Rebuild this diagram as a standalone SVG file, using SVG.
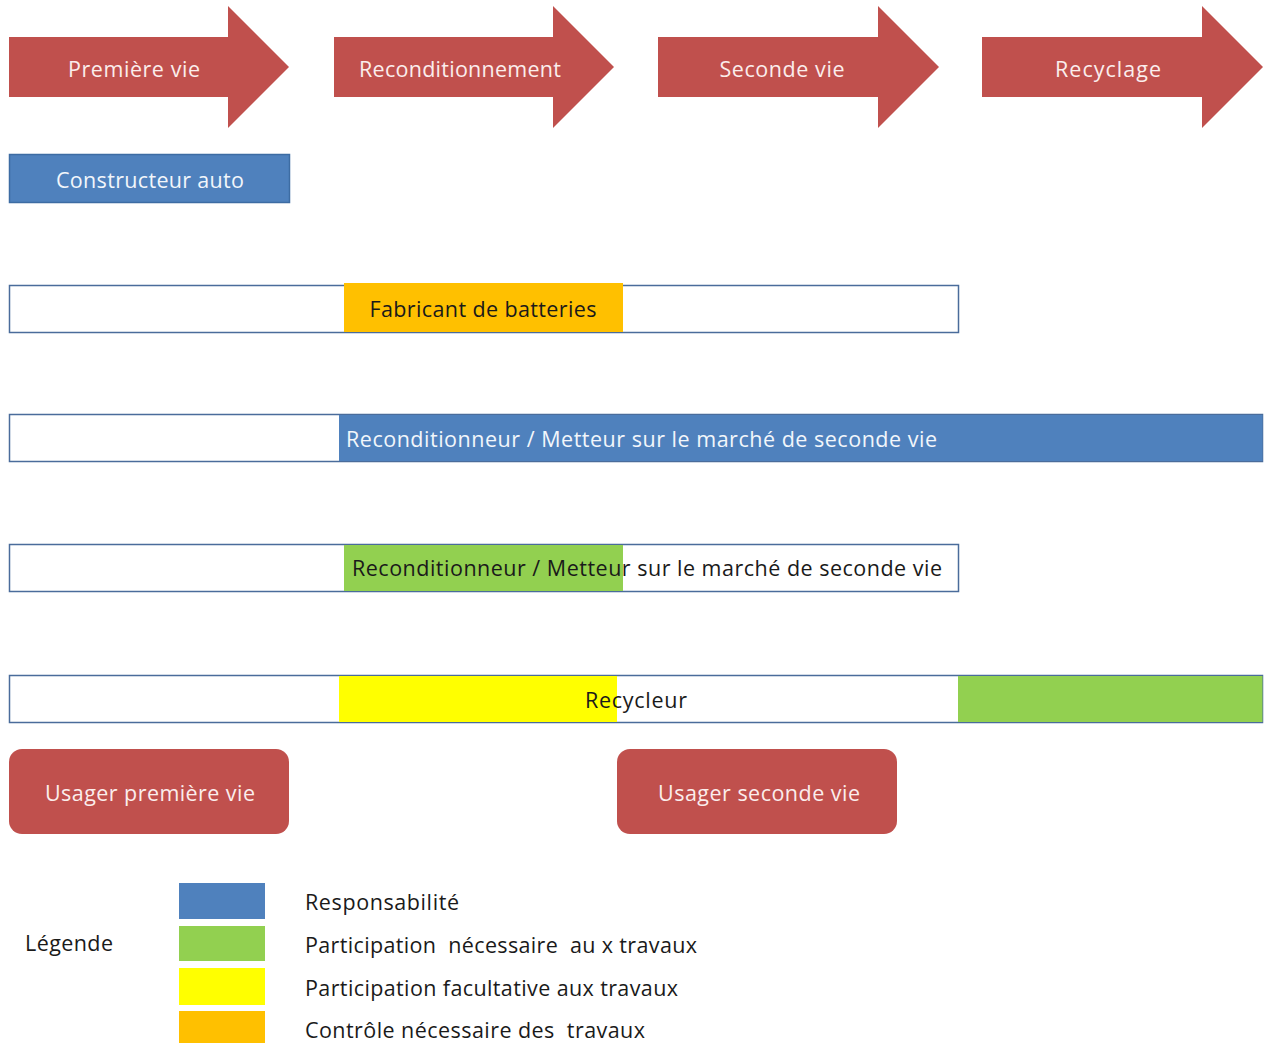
<svg xmlns="http://www.w3.org/2000/svg" width="1266" height="1043" viewBox="0 0 1266 1043">
<style>
text{font-family:"Open Sans","Liberation Sans",sans-serif;font-size:21.5px;dominant-baseline:central}
.arrow{fill:#C0504D}
.lt{fill:#FBEDEC}
.wt{fill:#F2F6FB}
.dk{fill:#1A1A1A}
.bar{fill:#FFFFFF;stroke:#4A6C9B;stroke-width:1.5}
.blue{fill:#4F81BD}
.green{fill:#92D050}
.yellow{fill:#FFFF00}
.orange{fill:#FFC000}
.user{fill:#C0504D}
.mid{text-anchor:middle}
</style>
<rect width="1266" height="1043" fill="#FFFFFF"/>
<g id="phase-premiere-vie">
<polygon class="arrow" points="9,37 228,37 228,6 289,67 228,128 228,97 9,97"/>
<text class="lt mid" x="134" y="68" textLength="132">Première vie</text>
</g>
<g id="phase-reconditionnement">
<polygon class="arrow" points="334,37 553,37 553,6 614,67 553,128 553,97 334,97"/>
<text class="lt mid" x="460" y="68" textLength="202">Reconditionnement</text>
</g>
<g id="phase-seconde-vie">
<polygon class="arrow" points="658,37 878,37 878,6 939,67 878,128 878,97 658,97"/>
<text class="lt mid" x="782" y="68" textLength="125">Seconde vie</text>
</g>
<g id="phase-recyclage">
<polygon class="arrow" points="982,37 1202,37 1202,6 1263,67 1202,128 1202,97 982,97"/>
<text class="lt mid" x="1108" y="68" textLength="106">Recyclage</text>
</g>
<g id="constructeur-auto">
<rect class="blue" x="9.5" y="154.5" width="280" height="48" stroke="#3D6CA3" stroke-width="1.5"/>
<text class="wt mid" x="150" y="179" textLength="188">Constructeur auto</text>
</g>
<g id="fabricant-batteries">
<rect class="bar" x="9.5" y="285.5" width="949" height="47"/>
<rect class="orange" x="344" y="283" width="279" height="49"/>
<text class="dk mid" x="483" y="308" textLength="227">Fabricant de batteries</text>
</g>
<g id="reconditionneur-responsable">
<rect class="bar" x="9.5" y="414.5" width="1253" height="47"/>
<rect class="blue" x="339" y="415" width="923.5" height="46"/>
<text class="wt" x="346" y="438" textLength="591">Reconditionneur / Metteur sur le marché de seconde vie</text>
</g>
<g id="reconditionneur-participation">
<rect class="bar" x="9.5" y="544.5" width="949" height="47"/>
<rect class="green" x="344" y="545" width="279" height="46"/>
<text class="dk" x="352" y="567" textLength="590">Reconditionneur / Metteur sur le marché de seconde vie</text>
</g>
<g id="recycleur">
<rect class="bar" x="9.5" y="675.5" width="1253" height="47"/>
<rect class="yellow" x="339" y="676" width="278" height="46"/>
<rect class="green" x="958" y="676" width="304.5" height="46"/>
<text class="dk mid" x="636" y="699" textLength="102">Recycleur</text>
</g>
<g id="usager-premiere-vie">
<rect class="user" x="9" y="749" width="280" height="85" rx="13"/>
<text class="lt mid" x="150" y="792" textLength="210">Usager première vie</text>
</g>
<g id="usager-seconde-vie">
<rect class="user" x="617" y="749" width="280" height="85" rx="13"/>
<text class="lt mid" x="759" y="792" textLength="202">Usager seconde vie</text>
</g>
<g id="connectors"></g>
<g id="legende">
<text class="dk" x="25" y="942" textLength="88">Légende</text>
<rect class="blue" x="179" y="883" width="86" height="36"/>
<rect class="green" x="179" y="926" width="86" height="35"/>
<rect class="yellow" x="179" y="968" width="86" height="37"/>
<rect class="orange" x="179" y="1011" width="86" height="32"/>
<text class="dk" x="305" y="901" textLength="154">Responsabilité</text>
<text class="dk" x="305" y="944" xml:space="preserve" textLength="392">Participation  nécessaire  au x travaux</text>
<text class="dk" x="305" y="987" textLength="373">Participation facultative aux travaux</text>
<text class="dk" x="305" y="1029" xml:space="preserve" textLength="340">Contrôle nécessaire des  travaux</text>
</g>
</svg>
